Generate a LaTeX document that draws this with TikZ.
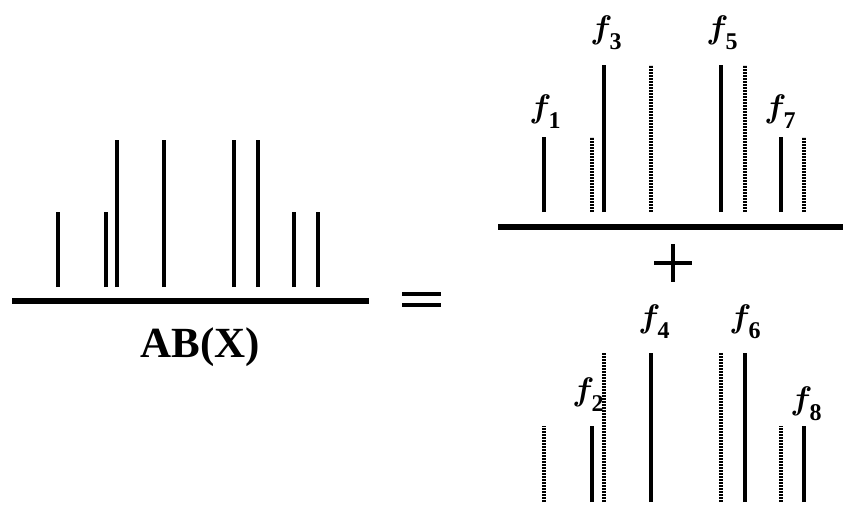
\documentclass[tikz,border=0pt]{standalone}
\usepackage{graphicx}
\usepackage{bm}
\usepackage{fontspec}
\setmainfont{Liberation Serif}
\newcommand\flab[1]{\resizebox*{!}{29pt}{$\bm{f}$}\kern-3pt\raisebox{-11pt}{\fontsize{24}{24}\selectfont\bfseries #1}}
\tikzset{
  bar/.style={line width=3.3pt, line cap=butt},
  dbar/.style={line width=3.3pt, line cap=butt, dash pattern=on 2pt off 1pt},
  axis/.style={line width=5.5pt},
  lab/.style={inner sep=0pt, font=\fontsize{32}{32}\selectfont},
}
\begin{document}
\begin{tikzpicture}[x=1pt,y=-1pt]
\useasboundingbox (0,0) rectangle (843,511);
% left spectrum
\draw[axis] (12,301) -- (369,301);
\foreach \x/\t in {58/212,106/212,117/140,164/140,234/140,258/140,294/212,318/212}
  \draw[bar] (\x,287) -- (\x,\t);
\node[inner sep=0pt, font=\fontsize{43}{43}\selectfont\bfseries] (ab) at (200,347) {AB(X)};
% equals
\draw[line width=4pt] (402,294) -- (441,294);
\draw[line width=4pt] (402,305) -- (441,305);
% right top
\draw[axis] (498,227) -- (843,227);
\foreach \x/\t in {544/137,604/65,721/65,781/137}
  \draw[bar] (\x,212) -- (\x,\t);
\foreach \x/\t in {592/137,651/65,745/65,804/137}
  \draw[dbar] (\x,212) -- (\x,\t);
\node[lab] (f1) at (545,112) {\flab{1}};
\node[lab] (f3) at (606,33) {\flab{3}};
\node[lab] (f5) at (722,33) {\flab{5}};
\node[lab] (f7) at (780,112) {\flab{7}};
% plus
\draw[line width=4pt] (654,263) -- (692,263);
\draw[line width=4pt] (673,244) -- (673,282);
% bottom
\foreach \x/\t in {592/426,651/353,745/353,804/426}
  \draw[bar] (\x,502) -- (\x,\t);
\foreach \x/\t in {544/426,604/353,721/353,781/426}
  \draw[dbar] (\x,502) -- (\x,\t);
\node[lab] (f2) at (588,395) {\flab{2}};
\node[lab] (f4) at (654,322) {\flab{4}};
\node[lab] (f6) at (745,322) {\flab{6}};
\node[lab] (f8) at (806,404) {\flab{8}};
\end{tikzpicture}
\end{document}
